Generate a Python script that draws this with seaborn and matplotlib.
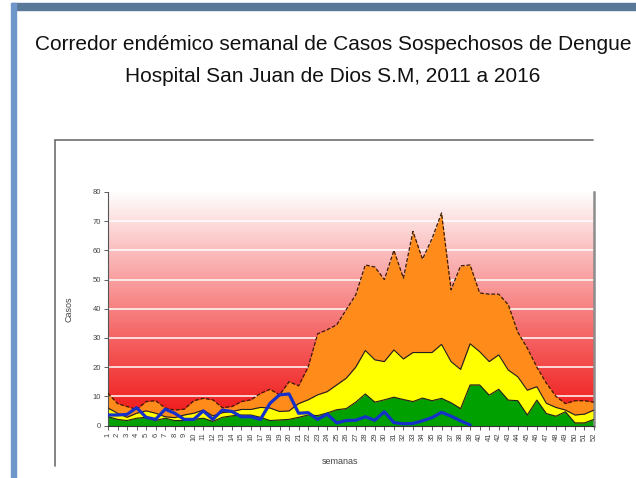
import numpy as np
import seaborn as sns
import matplotlib.pyplot as plt
from matplotlib.patches import Rectangle
from matplotlib.lines import Line2D

# Corredor endemico: semanas epidemiologicas 1-52
semanas = list(range(1, 53))

# zona de exito (verde) - limite superior
percentil_25 = [3, 2.1, 1.7, 2.5, 2.8, 1.7, 2.5, 1.7, 1.7, 2.1, 2.5, 1.4, 2.8,
                3.3, 3.6, 3.6, 2.8, 1.7, 1.9, 2.1, 2.8, 3.6, 3.4, 4.3, 5.4, 5.8,
                8, 10.8, 8, 8.8, 9.7, 8.9, 8.2, 9.4, 8.5, 9.3, 7.8, 5.8, 13.9,
                13.9, 10.4, 12.4, 8.7, 8.5, 3.6, 8.7, 4.1, 3.2, 4.7, 0.9, 0.9, 2.1]

# zona de seguridad (amarillo) - limite superior
mediana = [6, 4.2, 2.8, 4.2, 5, 4.2, 3, 2.7, 3.6, 4.2, 5.3, 3.3, 4.4, 4.8, 5.5,
           5.5, 6.2, 6, 4.8, 5, 7.5, 8.8, 10.5, 11.6, 13.9, 16.2, 20, 25.7, 22.5,
           21.9, 25.9, 22.8, 25, 25, 25, 27.8, 21.9, 19.2, 28, 25.3, 21.9, 24.2,
           19, 16.7, 12.1, 13.3, 7.6, 6.2, 5.3, 3.6, 3.9, 5.3]

# zona de alerta (naranja) - limite superior
percentil_75 = [11, 7.5, 6.5, 5.5, 8.2, 8.5, 6, 5.3, 5.6, 8.5, 9.3, 8.8, 6.1,
                6.5, 8.2, 8.8, 11, 12.4, 10.5, 15, 13.6, 20, 31.4, 32.8, 34.5,
                39.7, 44.8, 55, 54.3, 50, 60, 50.5, 66.5, 57, 64, 72.8, 46.5,
                54.7, 55, 45.4, 45, 45, 41.4, 32, 26.5, 20, 14.5, 10, 7.5, 8.5,
                8.5, 8]

# casos 2016 (linea azul), semanas 1-39
casos_2016 = [3.6, 3.6, 3.8, 6.1, 2.8, 2.1, 5.6, 4.2, 2.1, 2.1, 5, 2.1, 5.3,
              4.8, 3, 3, 2.1, 7.6, 10.5, 10.8, 4.2, 4.4, 2.1, 3.9, 0.9, 1.7,
              1.8, 3, 1.8, 4.7, 1, 0.6, 0.7, 1.6, 2.7, 4.5, 3.2, 1.6, 0.2]

y_ticks = list(range(0, 90, 10))

sns.set_theme(style='white')
plt.rcParams['font.family'] = ['Liberation Sans', 'DejaVu Sans']

W, H = 636, 478
fig = plt.figure(figsize=(W / 100, H / 100), dpi=100)
fig.patch.set_facecolor('white')

# marco de la diapositiva
fig.patches.append(Rectangle((12 / W, 1 - 10 / H), (W - 12) / W, 7 / H,
                             transform=fig.transFigure, color='#5a7898', zorder=0))
fig.patches.append(Rectangle((11 / W, 0), 5 / W, 1 - 3 / H,
                             transform=fig.transFigure, color='#6f96c8', zorder=0))
# caja del grafico
fig.lines.append(Line2D([55 / W, 593 / W], [1 - 140 / H, 1 - 140 / H],
                        transform=fig.transFigure, color='#6e6e6e', lw=1.2))
fig.lines.append(Line2D([55 / W, 55 / W], [1 - 140 / H, 1 - 466 / H],
                        transform=fig.transFigure, color='#6e6e6e', lw=1.2))

ax = fig.add_axes([108 / W, 1 - 425.5 / H, 486 / W, 233.5 / H])

# fondo degradado rojo -> blanco (zona epidemica)
t = np.linspace(0, 1, 256) ** 1.1
rojo = np.array([0.94, 0.08, 0.08])
grad = rojo[None, :] * (1 - t[:, None]) + t[:, None]
ax.imshow(grad[:, None, :], extent=[1, 52, 0, 80], aspect='auto', origin='lower', zorder=0)
for v in y_ticks[1:-1]:
    ax.axhline(v, color='white', lw=1.1, zorder=1)

ax.fill_between(semanas, percentil_75, mediana, color='#ff8c1a', lw=0, zorder=2)
ax.fill_between(semanas, mediana, percentil_25, color='#ffff00', lw=0, zorder=2)
ax.fill_between(semanas, percentil_25, 0, color='#00a000', lw=0, zorder=2)

sns.lineplot(x=semanas, y=percentil_25, color='#202020', lw=0.8, ax=ax, zorder=3)
sns.lineplot(x=semanas, y=mediana, color='#202020', lw=0.8, ax=ax, zorder=3)
sns.lineplot(x=semanas, y=percentil_75, color='#3a1a00', lw=0.9,
             linestyle=(0, (3, 1.5)), ax=ax, zorder=3)
sns.lineplot(x=semanas[:len(casos_2016)], y=casos_2016, color='#1530c8', lw=2.3,
             ax=ax, zorder=4)

ax.set_xlim(1, 52)
ax.set_ylim(0, 80)
ax.set_xticks(semanas)
ax.set_xticklabels([str(s) for s in semanas], rotation=90, fontsize=5.5, color='#222222')
ax.set_yticks(y_ticks)
ax.set_yticklabels([str(v) for v in y_ticks], fontsize=5.5, color='#555555')
ax.tick_params(bottom=True, left=True, direction='out', length=3, width=0.6,
               pad=2, colors='#444444')
ax.grid(False)

ax.spines['top'].set_visible(False)
ax.spines['left'].set_color('#555555')
ax.spines['left'].set_linewidth(0.8)
ax.spines['bottom'].set_color('#333333')
ax.spines['bottom'].set_linewidth(0.8)
ax.spines['right'].set_color('#8c8c8c')
ax.spines['right'].set_linewidth(1.8)

ax.set_ylabel('Casos', fontsize=6.5, color='#444444')
ax.yaxis.set_label_coords(-0.072, 0.5)
ax.set_xlabel('semanas', fontsize=6.5, color='#444444')
ax.xaxis.set_label_coords(0.477, -0.135)

fig.text(333 / W, 1 - 45 / H, 'Corredor endémico semanal de Casos Sospechosos de Dengue',
         ha='center', va='center', fontsize=15, color='#111111')
fig.text(333 / W, 1 - 76 / H, 'Hospital San Juan de Dios S.M, 2011 a 2016',
         ha='center', va='center', fontsize=15, color='#111111')

plt.savefig('out.png', dpi=100)
plt.close()
